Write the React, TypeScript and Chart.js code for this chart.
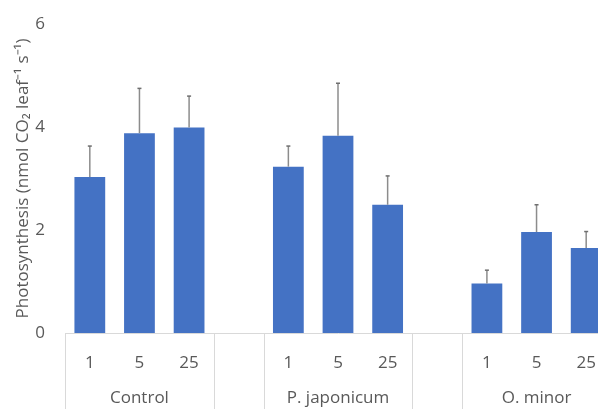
import React, { useEffect, useRef } from "react";
import { Chart, registerables } from "chart.js";

Chart.register(...registerables);

const categories = ["1", "5", "25", "", "1", "5", "25", "", "1", "5", "25"];
const groups = ["Control", "P. japonicum", "O. minor"];
const groupCenters = [1, 5, 9];
const separators = [-0.5, 2.5, 3.5, 6.5, 7.5];
const means = [3.03, 3.88, 3.99, null, 3.23, 3.83, 2.49, null, 0.96, 1.96, 1.65];
const errors = [0.6, 0.87, 0.61, null, 0.4, 1.02, 0.56, null, 0.26, 0.53, 0.32];
const yTicks = [0, 2, 4, 6];

const FONT = "'Open Sans', sans-serif";
const TEXT = "#595959";
const LINE = "#d9d9d9";

const errorBarPlugin = {
  id: "errorBars",
  afterDatasetsDraw(chart: any) {
    const meta = chart.getDatasetMeta(0);
    const y = chart.scales.y;
    const ctx = chart.ctx;
    ctx.save();
    means.forEach((m, i) => {
      if (m == null || errors[i] == null) return;
      const el = meta.data[i];
      const x = el.x;
      const yBar = y.getPixelForValue(m);
      const yTop = y.getPixelForValue((m as number) + (errors[i] as number));
      ctx.strokeStyle = "#8c8c8c";
      ctx.lineWidth = 1.5;
      ctx.beginPath();
      ctx.moveTo(x, yBar);
      ctx.lineTo(x, yTop);
      ctx.stroke();
      ctx.strokeStyle = "#6f6f6f";
      ctx.beginPath();
      ctx.moveTo(x - 2, yTop);
      ctx.lineTo(x + 2, yTop);
      ctx.stroke();
    });
    ctx.restore();
  },
};

const groupAxisPlugin = {
  id: "groupAxis",
  afterDraw(chart: any) {
    const xs = chart.scales.x;
    const ctx = chart.ctx;
    const area = chart.chartArea;
    const slot = xs.getPixelForValue(1) - xs.getPixelForValue(0);
    ctx.save();
    ctx.strokeStyle = LINE;
    ctx.lineWidth = 1;
    separators.forEach((s) => {
      const px = Math.round(xs.getPixelForValue(0) + s * slot) + 0.5;
      ctx.beginPath();
      ctx.moveTo(px, area.bottom);
      ctx.lineTo(px, chart.height);
      ctx.stroke();
    });
    ctx.fillStyle = TEXT;
    ctx.font = `17px ${FONT}`;
    ctx.textAlign = "center";
    ctx.textBaseline = "middle";
    groups.forEach((g, i) => {
      ctx.fillText(g, xs.getPixelForValue(groupCenters[i]), 398);
    });
    ctx.restore();
  },
};

export default function App() {
  const ref = useRef<HTMLCanvasElement | null>(null);
  useEffect(() => {
    if (!ref.current) return;
    const chart = new Chart(ref.current, {
      type: "bar",
      data: {
        labels: categories,
        datasets: [
          {
            data: means as any,
            backgroundColor: "#4472C4",
            borderWidth: 0,
            categoryPercentage: 1,
            barPercentage: 0.62,
          },
        ],
      },
      options: {
        responsive: false,
        animation: false,
        layout: { padding: { top: 24, right: 1, left: 0, bottom: 0 } },
        plugins: { legend: { display: false }, tooltip: { enabled: false } },
        scales: {
          x: {
            grid: { display: false, drawTicks: false },
            border: { display: true, color: LINE, width: 1 },
            ticks: {
              color: TEXT,
              font: { family: FONT, size: 17 },
              padding: 20,
              maxRotation: 0,
              autoSkip: false,
            },
            afterFit(scale: any) {
              scale.height = 76;
              scale.paddingLeft = 0;
              scale.paddingRight = 0;
            },
          },
          y: {
            min: 0,
            max: 6,
            grid: { display: false, drawTicks: false },
            border: { display: false },
            afterBuildTicks(scale: any) {
              scale.ticks = yTicks.map((v) => ({ value: v }));
            },
            ticks: {
              color: TEXT,
              font: { family: FONT, size: 17 },
              padding: 20,
            },
            title: {
              display: true,
              text: "Photosynthesis (nmol CO\u2082 leaf\u207B\u00B9 s\u207B\u00B9)",
              color: TEXT,
              font: { family: FONT, size: 17 },
              padding: { top: 13, bottom: 0 },
            },
            afterFit(scale: any) {
              scale.width = 65;
              scale.paddingTop = 0;
              scale.paddingBottom = 0;
            },
          },
        },
      },
      plugins: [errorBarPlugin, groupAxisPlugin],
    });
    return () => chart.destroy();
  }, []);
  return (
    <div
      style={{
        position: "fixed",
        left: 0,
        top: 0,
        width: 598,
        height: 409,
        overflow: "hidden",
        background: "#fff",
      }}
    >
      <canvas ref={ref} width={612} height={409} style={{ display: "block" }} />
    </div>
  );
}
